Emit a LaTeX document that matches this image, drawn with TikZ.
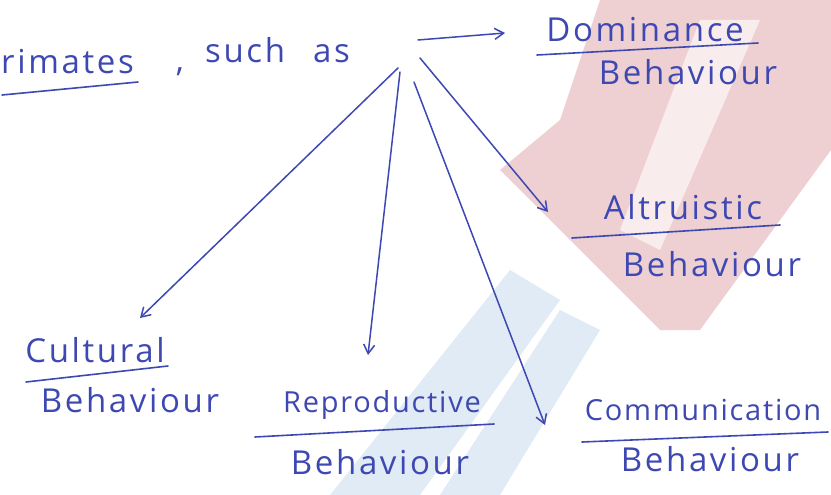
\documentclass[tikz,border=0pt]{standalone}
\usepackage{fontspec}
\setmainfont{Open Sans}
\usetikzlibrary{arrows.meta}
\definecolor{ink}{RGB}{62,72,178}
\definecolor{wmpink}{RGB}{238,208,210}
\definecolor{wmblue}{RGB}{224,235,245}
\tikzset{
  lbl/.style={text=ink,font=\fontsize{33}{36}\selectfont\addfontfeatures{LetterSpace=8},inner sep=0pt},
  lblsmall/.style={lbl,font=\fontsize{29}{32}\selectfont\addfontfeatures{LetterSpace=6}},
  uline/.style={draw=ink,line width=1.6pt,line cap=round},
  conn/.style={draw=ink,line width=1.5pt,line cap=round,-{Straight Barb[length=9pt,width=11pt,line width=1.5pt]}}
}
\begin{document}
\begin{tikzpicture}[x=1pt,y=-1pt]
\useasboundingbox (0,0) rectangle (831,495);
% watermark (faint)
\fill[wmpink] (600,0) -- (831,0) -- (831,150) -- (700,330) -- (660,330) -- (500,170) -- (560,120) -- cycle;
\fill[white,opacity=0.6] (700,20) -- (760,20) -- (660,250) -- (620,230) -- cycle;
\fill[wmblue] (330,495) -- (420,495) -- (560,300) -- (510,270) -- cycle;
\fill[wmblue] (440,495) -- (500,495) -- (600,330) -- (560,310) -- cycle;
% texts
\node[lbl,anchor=west] (prim) at (1,62) {rimates};
\node[lbl] (comma) at (180,72) {,};
\node[lbl,anchor=west] (such) at (205,50) {such\hspace{28pt}as};
\node[lbl] (dom) at (645,30) {Dominance};
\node[lbl] (domb) at (688,72) {Behaviour};
\node[lbl] (alt) at (683,207) {Altruistic};
\node[lbl] (altb) at (712,264) {Behaviour};
\node[lbl] (cult) at (95,350) {Cultural};
\node[lbl] (cultb) at (130,400) {Behaviour};
\node[lblsmall] (rep) at (382,405) {Reproductive};
\node[lbl] (repb) at (380,462) {Behaviour};
\node[lblsmall] (com) at (703,410) {Communication};
\node[lbl] (comb) at (710,459) {Behaviour};
% underlines
\draw[uline] (2,95) -- (138,82);
\draw[uline] (537,55) -- (758,43);
\draw[uline] (572,238) -- (780,225);
\draw[uline] (26,382) -- (168,366);
\draw[uline] (255,437) -- (494,424);
\draw[uline] (582,442) -- (828,432);
% connector start points
\coordinate (s1) at (418,40);
\coordinate (s2) at (420,58);
\coordinate (s3) at (398,68);
\coordinate (s4) at (400,72);
\coordinate (s5) at (414,82);
% connector end points
\coordinate (e1) at (505,33);
\coordinate (e2) at (548,212);
\coordinate (e3) at (140,318);
\coordinate (e4) at (368,355);
\coordinate (e5) at (545,425);
\draw[conn] (s1) -- (e1);
\draw[conn] (s2) -- (e2);
\draw[conn] (s3) -- (e3);
\draw[conn] (s4) -- (e4);
\draw[conn] (s5) -- (e5);
\end{tikzpicture}
\end{document}
